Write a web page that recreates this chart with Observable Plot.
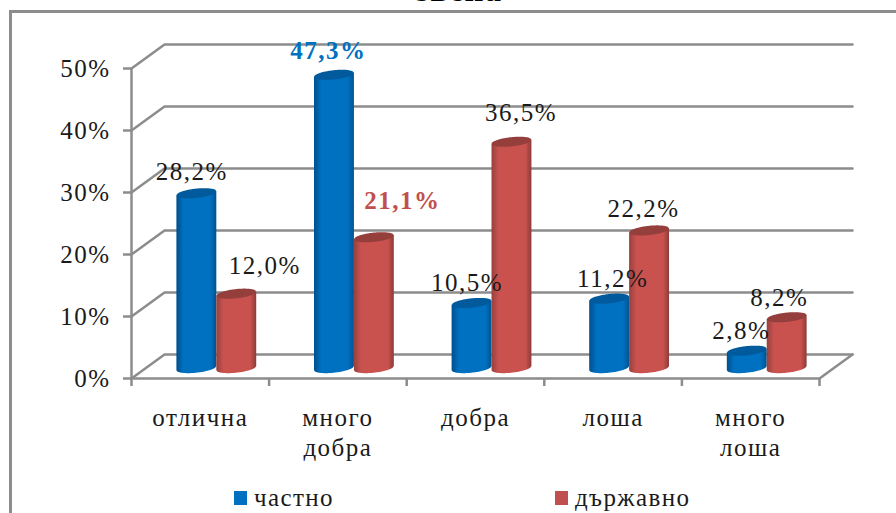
<!DOCTYPE html>
<html lang="bg">
<head>
<meta charset="utf-8">
<script src="https://cdn.jsdelivr.net/npm/d3@7"></script>
<script src="https://cdn.jsdelivr.net/npm/@observablehq/plot@0.6"></script>
<style>
  html, body { margin: 0; padding: 0; background: #fff; overflow: hidden; }
  #page { position: relative; width: 896px; height: 513px; overflow: hidden; font-family: "Liberation Serif", serif; color: #1a1a1a; }
  #border-top { position: absolute; left: 9px; top: 10px; right: 0; height: 3px; background: #8c8c8c; }
  #border-left { position: absolute; left: 9px; top: 10px; bottom: 0; width: 3px; background: #8c8c8c; }
  #title { position: absolute; left: 0; width: 918px; top: -28px; margin: 0; text-align: center; font: bold 33px/36px "Liberation Serif", serif; letter-spacing: 1px; color: #000; }
  #chart { position: absolute; left: 0; top: 0; }
  #chart text { letter-spacing: 1.5px; }
  #legend { position: absolute; left: 0; top: 483px; width: 896px; height: 30px; font-size: 25px; letter-spacing: 1.4px; line-height: 30px; }
  .key { position: absolute; top: 0; white-space: nowrap; }
  .key i { display: inline-block; width: 13px; height: 14px; margin-right: 7px; vertical-align: 1px; }
</style>
</head>
<body>
<div id="page">
  <div id="border-top"></div>
  <div id="border-left"></div>
  <h1 id="title">звена</h1>
  <div id="chart"></div>
  <div id="legend"></div>
</div>
<script>
// Ratings by school type, in percent.
const categories = ["отлична", "много\nдобра", "добра", "лоша", "много\nлоша"];
const seriesNames = ["частно", "държавно"];
const chastno = [28.2, 47.3, 10.5, 11.2, 2.8];
const darzhavno = [12.0, 21.1, 36.5, 22.2, 8.2];
const yTicks = [0, 10, 20, 30, 40, 50];

// Shift of a label from the top of its column, in pixels.
const chastnoNudge = [[-5, -22], [-6, -24], [-5, -20], [3, -20], [-6, -20]];
const darzhavnoNudge = [[28, -28], [28, -37], [9, -29], [-6, -22], [-8, -20]];

// Colours of the two series.
const blue = "#0070c0";
const red = "#c0504d";
const gridColor = "#8c8c8c";

// Oblique depth of the 3-D box, in scale units.
const depthX = 0.24;
const depthY = 3.87;
// Column geometry, in scale units.
const columnWidth = 0.29;
const capHalfHeight = 0.75;
const capTilt = 0.33;
const planeY = 1.6;

const xColumn = (i, s) => i + 0.5 + depthX / 2 + (s === 0 ? -columnWidth / 2 : columnWidth / 2);
const steps = d3.range(-1, 1.0001, 0.05);

// Outline of one column: the area between the base curve and the cap line.
function bodyRows(values, s) {
  return values.flatMap((v, i) => steps.map(t => {
    const arc = capHalfHeight * Math.sqrt(Math.max(0, 1 - t * t));
    return {
      id: i,
      x: xColumn(i, s) + t * columnWidth / 2,
      y1: planeY + t * capTilt - arc,
      y2: planeY + v + t * capTilt
    };
  }));
}

// Elliptical cap on top of one column.
function capRows(values, s) {
  return values.flatMap((v, i) => steps.map(t => {
    const arc = capHalfHeight * Math.sqrt(Math.max(0, 1 - t * t));
    const mid = planeY + v + t * capTilt;
    return { id: i, x: xColumn(i, s) + t * columnWidth / 2, y1: mid - arc, y2: mid + arc };
  }));
}

// Front tick → back wall → right end, one polyline per gridline.
const gridRows = yTicks.flatMap(v => [
  { v, x: 0, y: v },
  { v, x: depthX, y: v + depthY },
  { v, x: 5 + depthX, y: v + depthY }
]);
const floorFront = [{ x: 0, y: 0 }, { x: 5, y: 0 }, { x: 5 + depthX, y: depthY }];

const comma = v => d3.format(".1f")(v).replace(".", ",") + "%";

const plainStyle = { fontSize: 25, fill: "#1a1a1a" };
const boldStyle = color => ({ fontSize: 25, fontWeight: "bold", fill: color });

// Value labels; styleFor picks the look of each one.
function columnLabels(values, s, nudges, styleFor) {
  return values.map((v, i) => Plot.text([v], {
    x: () => xColumn(i, s),
    y: d => planeY + d,
    text: comma,
    dx: nudges[i][0],
    dy: nudges[i][1],
    lineAnchor: "middle",
    ...styleFor(i)
  }));
}

function gradient(id, edgeL, mid, edgeR) {
  return () => {
    const defs = d3.create("svg:defs");
    const g = defs.append("linearGradient").attr("id", id);
    [[0, edgeL], [0.18, mid], [0.85, mid], [1, edgeR]].forEach(([o, c]) =>
      g.append("stop").attr("offset", o).attr("stop-color", c));
    return defs.node();
  };
}

function column(values, s, fillId, capColor) {
  return [
    Plot.areaY(bodyRows(values, s), { x: "x", y1: "y1", y2: "y2", z: "id", fill: `url(#${fillId})`, curve: "linear" }),
    Plot.areaY(capRows(values, s), { x: "x", y1: "y1", y2: "y2", z: "id", fill: capColor, curve: "linear" })
  ];
}

const chart = Plot.plot({
  width: 896,
  height: 480,
  marginLeft: 131,
  marginRight: 77,
  marginTop: 68,
  marginBottom: 102,
  style: { background: "transparent", overflow: "visible", fontFamily: "Liberation Serif" },
  x: { domain: [0, 5] },
  y: { domain: [0, 50] },
  marks: [
    gradient("columnBlue", "#004f8c", "#0070c0", "#00528f"),
    gradient("columnRed", "#97403d", "#c9524f", "#8c3b39"),
    Plot.line(gridRows, { x: "x", y: "y", z: "v", stroke: gridColor, strokeWidth: 2.5 }),
    Plot.line(floorFront, { x: "x", y: "y", stroke: gridColor, strokeWidth: 2.5 }),
    Plot.ruleX([0], { y1: 0, y2: 50, stroke: gridColor, strokeWidth: 2.5 }),
    Plot.axisY({
      ticks: yTicks,
      tickFormat: d => d + "%",
      tickSize: 8,
      tickPadding: 13,
      stroke: gridColor,
      strokeWidth: 2.5,
      fill: "#1a1a1a",
      fontSize: 25,
      label: null
    }),
    Plot.axisX({
      ticks: [0, 1, 2, 3, 4, 5],
      tickSize: 8,
      tickFormat: () => "",
      stroke: gridColor,
      strokeWidth: 2.5,
      label: null
    }),
    Plot.axisX({
      ticks: [0.5, 1.5, 2.5, 3.5, 4.5],
      tickSize: 0,
      tickPadding: 26,
      tickFormat: t => categories[Math.floor(t)],
      fill: "#1a1a1a",
      fontSize: 25,
      lineHeight: 1.2,
      lineAnchor: "top",
      label: null
    }),
    ...column(chastno, 0, "columnBlue", "#005a9c"),
    ...column(darzhavno, 1, "columnRed", "#943f3c"),
    ...columnLabels(chastno, 0, chastnoNudge, i => i === 1 ? boldStyle(blue) : plainStyle),
    ...columnLabels(darzhavno, 1, darzhavnoNudge, i => i === 1 ? boldStyle(red) : plainStyle)
  ]
});
document.getElementById("chart").append(chart);

// Series key below the chart.
const legend = d3.select("#legend");
[[234, blue], [555, red]].forEach(([left, color], i) => {
  const key = legend.append("div").attr("class", "key").style("left", left + "px");
  key.append("i").style("background", color);
  key.append("span").text(seriesNames[i]);
});
</script>
</body>
</html>
